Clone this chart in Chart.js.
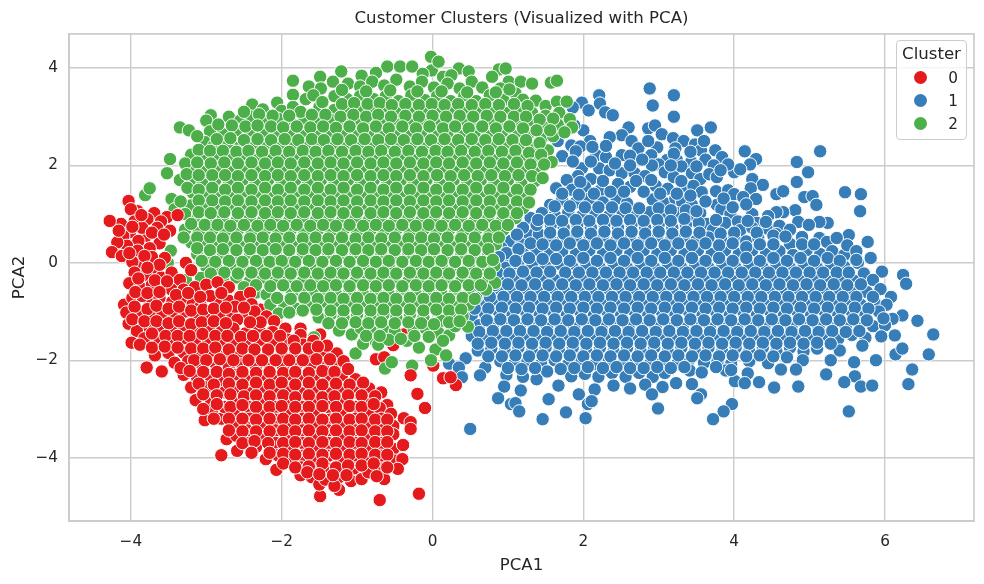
<!DOCTYPE html>
<html>
<head>
<meta charset="utf-8">
<title>Customer Clusters</title>
<script src="https://cdn.jsdelivr.net/npm/chart.js@4"></script>
<style>
  body { margin: 0; background: #fff; font-family: "DejaVu Sans", sans-serif; color: #262626; }
  #wrap { position: relative; width: 984px; height: 584px; }
  #legend { position: absolute; left: 896px; top: 40px; width: 69px; height: 98px; background: rgba(255,255,255,0.8);
    border: 1px solid #ccc; border-radius: 4px; }
  #legend .ttl { position: absolute; left: 0; right: 0; top: 3px; text-align: center; font-size: 16.6px; line-height: 20px; }
  #legend .row { position: absolute; left: 0; right: 0; height: 18px; font-size: 15.3px; line-height: 18px; }
  #legend .dot { position: absolute; left: 17px; top: 2px; width: 13px; height: 13px; border-radius: 50%; }
  #legend .lab { position: absolute; left: 49px; top: 0; width: 14px; text-align: center; }
</style>
</head>
<body>
<div id="wrap">
  <canvas id="clusterChart" width="984" height="584"></canvas>
  <div id="legend"></div>
</div>
<script>
'use strict';

const xTicks = [-4, -2, 0, 2, 4, 6];
const yTicks = [-4, -2, 0, 2, 4];
const clusterNames = ['0', '1', '2'];
const clusterColors = ['#e41a1c', '#377eb8', '#4daf4a'];

const cluster0 = [
[-4.03,1.27],[-3.91,1.06],[-4.0,1.1],[-3.69,1.02],[-3.52,0.94],[-3.38,0.98],[-3.6,0.85],[-3.78,0.9],[-3.95,0.85],[-4.13,0.8],[-4.28,0.86],[-4.01,0.63],[-3.8,0.55],[-3.65,0.72],[-3.85,0.72],[-4.1,0.55],[-3.48,0.66],[-3.62,0.4],[-3.75,0.3],[-3.9,0.45],[-4.05,0.35],[-4.18,0.42],[-4.25,0.22],[-4.12,0.14],[-3.91,0.25],[-3.84,0],[-3.67,-0.14],[-3.55,0.1],[-3.98,0.02],[-3.72,0.12],
[-3.95,-0.2],[-3.8,-0.25],[-3.6,-0.3],[-3.46,-0.2],[-3.35,-0.35],[-3.2,-0.15],[-4.02,-0.42],[-3.88,-0.5],[-3.72,-0.45],[-3.55,-0.5],[-3.46,-0.55],[-3.3,-0.55],[-3.15,-0.5],[-3.0,-0.45],[-2.85,-0.4],[-2.7,-0.5],
[-4.09,-0.86],[-3.98,-0.72],[-3.75,-0.84],[-3.85,-0.68],[-3.62,-0.72],[-3.45,-0.8],[-3.3,-0.72],[-3.18,-0.85],[-3.07,-0.88],[-2.86,-0.82],[-2.95,-0.68],[-2.7,-0.78],[-2.55,-0.7],[-2.42,-0.62],[-2.4,-0.85],
[-4.03,-1.25],[-4.06,-1.02],[-3.9,-1.05],[-3.72,-1.08],[-3.78,-0.95],[-3.58,-1.02],[-3.42,-1.1],[-3.28,-1.0],[-3.12,-1.12],[-2.98,-1.05],[-2.82,-1.1],[-2.66,-1.02],[-2.52,-1.12],[-2.59,-1.17],[-2.36,-1.0],[-2.2,-1.1],[-2.1,-1.2],
[-3.76,-1.33],[-3.92,-1.4],[-3.99,-1.64],[-3.82,-1.55],[-3.6,-1.32],[-3.62,-1.58],[-3.45,-1.4],[-3.46,-1.62],[-3.3,-1.3],[-3.3,-1.55],[-3.14,-1.42],[-3.12,-1.65],[-2.96,-1.32],[-2.98,-1.58],[-2.8,-1.42],[-2.8,-1.66],[-2.64,-1.35],[-2.62,-1.6],[-2.48,-1.45],[-2.44,-1.68],[-2.3,-1.35],[-2.28,-1.58],[-2.12,-1.42],[-2.1,-1.68],[-1.95,-1.35],[-1.92,-1.58],[-1.75,-1.48],[-1.72,-1.68],[-1.58,-1.6],
[-3.79,-2.15],[-3.59,-2.23],[-3.68,-1.9],[-3.5,-1.85],[-3.42,-2.05],[-3.3,-1.84],[-3.24,-2.02],[-3.1,-1.88],[-3.05,-2.12],[-2.92,-1.85],[-2.88,-2.06],[-2.74,-1.9],[-2.7,-2.14],[-2.55,-1.88],[-2.52,-2.08],[-2.36,-1.9],[-2.34,-2.14],[-2.18,-1.88],[-2.16,-2.08],[-2.0,-1.9],[-1.98,-2.14],[-1.82,-1.88],[-1.8,-2.08],[-1.64,-1.9],[-1.62,-2.12],[-1.46,-1.84],[-1.44,-2.08],[-1.27,-1.86],[-1.28,-2.1],[-1.4,-1.7],[-1.18,-2.02],
[-3.3,-2.3],[-3.2,-2.56],[-3.14,-2.82],[-3.12,-2.36],[-3.0,-2.55],[-2.96,-2.3],[-2.94,-2.8],[-2.8,-2.42],[-2.76,-2.66],[-2.62,-2.3],[-2.6,-2.56],[-2.6,-2.84],[-2.44,-2.4],[-2.42,-2.68],[-2.26,-2.32],[-2.25,-2.58],[-2.25,-2.84],[-2.1,-2.42],[-2.08,-2.68],[-1.92,-2.32],[-1.9,-2.56],[-1.9,-2.82],[-1.74,-2.42],[-1.73,-2.68],[-1.56,-2.32],[-1.55,-2.58],[-1.55,-2.84],[-1.38,-2.4],[-1.38,-2.68],[-1.2,-2.32],[-1.2,-2.58],[-1.2,-2.84],[-1.02,-2.39],[-1.02,-2.66],[-0.84,-2.58],[-0.86,-2.82],[-0.68,-2.66],[-0.6,-2.92],
[-3.02,-3.23],[-2.92,-3.02],[-2.8,-3.2],[-2.76,-2.96],[-2.6,-3.08],[-2.6,-3.32],[-2.44,-2.96],[-2.42,-3.2],[-2.26,-3.08],[-2.25,-3.34],[-2.08,-2.96],[-2.08,-3.22],[-1.9,-3.08],[-1.9,-3.32],[-1.72,-2.96],[-1.72,-3.2],[-1.55,-3.08],[-1.54,-3.34],[-1.38,-2.96],[-1.36,-3.22],[-1.2,-3.08],[-1.18,-3.34],[-1.02,-2.96],[-1.02,-3.2],[-0.85,-3.08],[-0.84,-3.32],[-0.7,-2.98],[-0.68,-3.2],[-0.55,-3.1],[-0.52,-3.35],
[-2.73,-3.62],[-2.8,-3.95],[-2.59,-3.86],[-2.6,-3.55],[-2.46,-3.44],[-2.44,-3.7],[-2.34,-3.78],[-2.26,-3.56],[-2.21,-4.03],[-2.08,-3.44],[-2.08,-3.7],[-2.07,-4.25],[-2.05,-3.95],[-1.9,-3.56],[-1.9,-3.82],[-1.9,-4.08],[-1.72,-3.44],[-1.72,-3.7],[-1.72,-3.96],[-1.75,-4.36],[-1.74,-4.2],[-1.55,-3.56],[-1.55,-3.82],[-1.55,-4.08],[-1.6,-4.4],[-1.38,-3.44],[-1.38,-3.7],[-1.38,-3.96],[-1.4,-4.22],[-1.2,-3.56],[-1.2,-3.82],[-1.2,-4.08],[-1.24,-4.4],[-1.02,-3.44],[-1.02,-3.7],[-1.02,-3.96],[-1.04,-4.22],[-0.85,-3.56],[-0.85,-3.82],[-0.85,-4.08],[-0.68,-3.44],[-0.68,-3.7],[-0.68,-3.96],[-0.7,-4.22],[-0.52,-3.52],[-0.52,-3.82],[-0.5,-4.06],[-0.39,-3.74],[-0.4,-4.03],[-0.46,-4.23],
[-1.49,-4.79],[-1.5,-4.55],[-1.42,-4.45],[-1.24,-4.66],[-1.3,-4.58],[-1.08,-4.48],[-0.94,-4.44],[-0.85,-4.3],[-0.64,-4.44],[-0.7,-4.87],[-0.18,-4.74],[-0.1,-2.98],[-0.2,-2.69],[-0.29,-2.31],[0.14,-2.37],[0.31,-2.51],[0.24,-2.35],[-0.38,-3.19],[-0.29,-3.27],[-0.29,-3.41],
[-3.86,0.98],[-3.72,0.62],[-3.56,0.58],[-3.98,0.74],[-4.16,0.66],[-3.82,0.14],[-4.02,0.2],[-3.62,-0.04],[-3.78,-0.1],[-3.9,-0.32],[-3.68,-0.36],[-3.52,-0.38],[-3.94,-0.6],[-3.78,-0.62],[-3.62,-0.6],[-3.4,-0.66],[-3.24,-0.62],[-3.08,-0.7],[-2.8,-0.62],[-2.62,-0.9],[-3.95,-0.9],[-3.66,-0.88],[-3.5,-0.94],[-3.36,-0.9],[-3.2,-0.98],[-3.04,-0.96],[-2.9,-0.94],[-2.74,-0.92],[-2.5,-0.92],[-2.28,-1.22],[-3.98,-1.16],[-3.82,-1.2],[-3.66,-1.2],[-3.5,-1.24],[-3.36,-1.2],[-3.2,-1.26],[-3.06,-1.22],[-2.9,-1.2],[-2.74,-1.24],[-2.42,-1.22],[-3.88,-1.68],[-3.72,-1.45],[-3.54,-1.5],[-3.38,-1.5],[-3.22,-1.5],[-3.05,-1.46],[-2.88,-1.5],[-2.72,-1.5],[-2.54,-1.52],[-2.38,-1.5],[-2.2,-1.5],[-2.02,-1.5],[-1.84,-1.6],[-3.72,-1.74],[-3.55,-1.72],[-3.38,-1.74],[-3.2,-1.76],[-3.04,-1.76],[-2.88,-1.74],[-2.7,-1.78],[-2.52,-1.76],[-2.36,-1.78],[-2.18,-1.78],[-2.0,-1.76],[-1.82,-1.76],[-1.64,-1.76],[-1.52,-1.72],[-3.34,-2.16],[-3.16,-2.0],[-3.0,-2.0],[-2.82,-1.98],[-2.64,-2.0],[-2.44,-2.0],[-2.26,-2.0],[-2.08,-2.0],[-1.9,-2.0],[-1.72,-2.0],[-1.54,-1.98],[-1.36,-1.98],[-3.22,-2.22],[-3.04,-2.24],[-2.86,-2.24],[-2.7,-2.28],[-2.52,-2.24],[-2.34,-2.26],[-2.16,-2.24],[-1.98,-2.26],[-1.82,-2.24],[-1.64,-2.26],[-1.46,-2.22],[-1.3,-2.24],[-1.12,-2.18],[-3.1,-2.48],[-2.9,-2.5],[-2.7,-2.48],[-2.52,-2.5],[-2.34,-2.46],[-2.16,-2.5],[-2.0,-2.46],[-1.82,-2.5],[-1.64,-2.46],[-1.46,-2.5],[-1.28,-2.48],[-1.1,-2.5],[-0.92,-2.46],[-3.04,-2.7],[-2.86,-2.72],[-2.68,-2.7],[-2.5,-2.74],[-2.34,-2.72],[-2.16,-2.74],[-1.98,-2.72],[-1.82,-2.76],[-1.64,-2.72],[-1.46,-2.76],[-1.3,-2.74],[-1.12,-2.72],[-0.94,-2.72],[-0.76,-2.74],[-3.04,-3.0],[-2.86,-2.9],[-2.68,-2.96],[-2.52,-2.92],[-2.34,-2.96],[-2.16,-2.96],[-2.0,-2.94],[-1.82,-2.96],[-1.64,-2.96],[-1.46,-2.94],[-1.28,-2.96],[-1.1,-2.94],[-0.94,-2.96],[-0.78,-2.9],[-2.9,-3.2],[-2.7,-3.2],[-2.52,-3.2],[-2.34,-3.22],[-2.16,-3.2],[-1.98,-3.2],[-1.82,-3.22],[-1.64,-3.2],[-1.46,-3.22],[-1.28,-3.2],[-1.1,-3.22],[-0.94,-3.2],[-0.76,-3.22],[-0.6,-3.22],[-2.7,-3.44],[-2.52,-3.46],[-2.34,-3.46],[-2.16,-3.46],[-1.98,-3.44],[-1.82,-3.46],[-1.64,-3.44],[-1.46,-3.46],[-1.28,-3.44],[-1.1,-3.46],[-0.94,-3.44],[-0.76,-3.46],[-0.6,-3.46],[-2.52,-3.7],[-2.36,-3.66],[-2.18,-3.7],[-1.98,-3.7],[-1.82,-3.68],[-1.64,-3.7],[-1.46,-3.68],[-1.28,-3.7],[-1.1,-3.68],[-0.94,-3.7],[-0.76,-3.68],[-0.6,-3.68],[-2.4,-3.9],[-2.16,-3.9],[-1.98,-3.92],[-1.82,-3.94],[-1.64,-3.92],[-1.46,-3.94],[-1.28,-3.92],[-1.1,-3.94],[-0.94,-3.92],[-0.76,-3.94],[-0.6,-3.94],[-1.98,-4.12],[-1.82,-4.2],[-1.64,-4.18],[-1.46,-4.12],[-1.28,-4.2],[-1.12,-4.16],[-0.94,-4.16],[-0.78,-4.12],[-0.6,-4.2],[-1.66,-4.3],[-1.5,-4.34],[-1.32,-4.36],[-1.14,-4.36],[-0.74,-4.38]
];

// the few reds that sit on top of the green cloud
const cluster0Front = [[-2.28,-0.96],[-1.75,-1.35],[-1.49,-1.47],[-0.38,-1.47],[-0.52,-1.69],[-3.27,0],[0.01,-2.11],[-0.75,-1.98],[-0.64,-1.94],[-2.59,-1.17]];

const cluster2 = [
[-0.02,4.23],[-0.01,3.95],[0.08,4.13],[-1.21,3.93],[-0.94,3.84],[-0.6,4.03],[-0.43,4.03],[-0.27,4.03],[-0.75,3.9],[0.14,3.82],[0.35,3.99],[0.48,3.93],[0.88,3.97],[0.97,3.99],[0.79,3.82],[-0.13,3.88],[0.25,3.85],
[-1.85,3.74],[-1.64,3.62],[-1.49,3.82],[-1.32,3.72],[-1.48,3.58],[-1.12,3.68],[-0.96,3.62],[-0.8,3.72],[-0.64,3.64],[-0.48,3.76],[-0.3,3.62],[-0.14,3.72],[0.02,3.6],[0.2,3.68],[0.36,3.58],[0.52,3.72],[0.66,3.6],[1.01,3.72],[1.17,3.72],[1.32,3.68],[1.57,3.7],[1.65,3.74],[0.9,3.58],[1.1,3.48],
[-1.85,3.45],[-1.68,3.36],[-1.3,3.42],[-1.13,3.36],[-0.96,3.42],[-0.78,3.36],[-0.62,3.42],[-0.45,3.32],[-0.28,3.44],[-0.1,3.34],[0.06,3.42],[0.24,3.32],[0.42,3.42],[0.58,3.32],[0.76,3.44],[0.94,3.34],[1.2,3.35],[1.37,3.33],[1.5,3.22],[1.65,3.31],[1.78,3.31],
[-2.06,3.29],[-2.39,3.25],[-2.25,3.15],[-2.0,3.12],[-1.85,3.2],[-1.5,3.2],[-1.3,3.14],[-1.12,3.12],[-0.95,3.18],[-0.78,3.1],[-0.62,3.18],[-0.44,3.08],[-0.26,3.18],[-0.08,3.08],[0.1,3.18],[0.28,3.08],[0.46,3.18],[0.64,3.08],[0.82,3.18],[1.0,3.08],[1.16,3.16],[1.32,3.08],[1.5,3.02],[1.68,3.08],[1.82,2.95],
[-2.94,3.03],[-3.0,2.92],[-2.7,3.0],[-2.55,2.92],[-2.4,3.0],[-2.22,2.9],[-2.05,2.96],[-1.88,2.88],[-1.7,2.96],[-1.52,2.88],[-1.35,2.94],[-1.18,2.86],[-1.0,2.94],[-0.82,2.86],[-0.65,2.94],[-0.48,2.84],[-0.3,2.94],[-0.12,2.84],[0.05,2.94],[0.22,2.84],[0.4,2.94],[0.58,2.84],[0.76,2.94],[0.94,2.84],[1.12,2.92],[1.3,2.84],[1.48,2.78],[1.66,2.84],[1.85,2.78],
[-3.35,2.78],[-3.23,2.72],[-2.95,2.7],[-2.78,2.64],[-2.6,2.72],[-2.42,2.62],[-2.25,2.7],[-2.08,2.62],[-1.9,2.68],[-1.72,2.6],[-1.55,2.68],[-1.38,2.6],[-1.2,2.68],[-1.02,2.6],[-0.85,2.68],[-0.68,2.6],[-0.5,2.68],[-0.32,2.6],[-0.15,2.68],[0.02,2.6],[0.2,2.68],[0.38,2.6],[0.56,2.68],[0.74,2.6],[0.92,2.68],[1.1,2.6],[1.28,2.66],[1.45,2.56],[1.6,2.6],
[-3.02,2.48],[-2.9,2.4],[-2.72,2.46],[-2.55,2.38],[-2.38,2.46],[-2.2,2.38],[-2.02,2.44],[-1.85,2.36],[-1.68,2.44],[-1.5,2.36],[-1.32,2.44],[-1.15,2.36],[-0.98,2.44],[-0.8,2.36],[-0.62,2.44],[-0.45,2.36],[-0.28,2.44],[-0.1,2.36],[0.08,2.44],[0.26,2.36],[0.44,2.44],[0.62,2.36],[0.8,2.44],[0.98,2.36],[1.16,2.44],[1.34,2.36],[1.53,2.31],
[-3.2,2.22],[-3.05,2.14],[-2.85,2.2],[-2.68,2.12],[-2.5,2.2],[-2.32,2.12],[-2.15,2.2],[-1.98,2.12],[-1.8,2.2],[-1.62,2.12],[-1.45,2.2],[-1.28,2.12],[-1.1,2.2],[-0.92,2.12],[-0.75,2.2],[-0.58,2.12],[-0.4,2.2],[-0.22,2.12],[-0.05,2.2],[0.12,2.12],[0.3,2.2],[0.48,2.12],[0.66,2.2],[0.84,2.12],[1.02,2.2],[1.2,2.12],[1.38,2.18],[1.58,2.07],
[-3.48,2.13],[-3.52,1.84],[-3.35,1.7],[-3.18,1.96],[-3.0,1.88],[-2.82,1.96],[-2.65,1.88],[-2.48,1.96],[-2.3,1.88],[-2.12,1.96],[-1.95,1.88],[-1.78,1.96],[-1.6,1.88],[-1.42,1.96],[-1.25,1.88],[-1.08,1.96],[-0.9,1.88],[-0.72,1.96],[-0.55,1.88],[-0.38,1.96],[-0.2,1.88],[-0.02,1.96],[0.15,1.88],[0.32,1.96],[0.5,1.88],[0.68,1.96],[0.86,1.88],[1.04,1.96],[1.22,1.88],[1.4,1.92],
[-3.2,1.68],[-3.05,1.62],[-2.88,1.7],[-2.7,1.62],[-2.52,1.7],[-2.35,1.62],[-2.18,1.7],[-2.0,1.62],[-1.82,1.7],[-1.65,1.62],[-1.48,1.7],[-1.3,1.62],[-1.12,1.7],[-0.95,1.62],[-0.78,1.7],[-0.6,1.62],[-0.42,1.7],[-0.25,1.62],[-0.08,1.7],[0.1,1.62],[0.28,1.7],[0.46,1.62],[0.64,1.7],[0.82,1.62],[1.0,1.7],[1.18,1.62],[1.36,1.68],
[-3.81,1.39],[-3.75,1.53],[-3.46,1.31],[-3.18,1.44],[-3.0,1.38],[-2.82,1.44],[-2.65,1.36],[-2.48,1.44],[-2.3,1.36],[-2.12,1.44],[-1.95,1.36],[-1.78,1.44],[-1.6,1.36],[-1.42,1.44],[-1.25,1.36],[-1.08,1.44],[-0.9,1.36],[-0.72,1.44],[-0.55,1.36],[-0.38,1.44],[-0.2,1.36],[-0.02,1.44],[0.15,1.36],[0.32,1.44],[0.5,1.36],[0.68,1.44],[0.86,1.36],[1.04,1.44],[1.22,1.38],
[-3.42,1.1],[-3.2,1.18],[-3.02,1.12],[-2.85,1.2],[-2.68,1.12],[-2.5,1.2],[-2.32,1.12],[-2.15,1.2],[-1.98,1.12],[-1.8,1.2],[-1.62,1.12],[-1.45,1.2],[-1.28,1.12],[-1.1,1.2],[-0.92,1.12],[-0.75,1.2],[-0.58,1.12],[-0.4,1.2],[-0.22,1.12],[-0.05,1.2],[0.12,1.12],[0.3,1.2],[0.48,1.12],[0.66,1.2],[0.84,1.12],[1.02,1.2],[1.2,1.12],
[-3.12,0.92],[-2.95,0.86],[-2.78,0.94],[-2.6,0.86],[-2.42,0.94],[-2.25,0.86],[-2.08,0.94],[-1.9,0.86],[-1.72,0.94],[-1.55,0.86],[-1.38,0.94],[-1.2,0.86],[-1.02,0.94],[-0.85,0.86],[-0.68,0.94],[-0.5,0.86],[-0.32,0.94],[-0.15,0.86],[0.02,0.94],[0.2,0.86],[0.38,0.94],[0.56,0.86],[0.74,0.94],[0.92,0.86],[1.1,0.92],
[-3.28,0.68],[-3.1,0.62],[-2.92,0.68],[-2.75,0.6],[-2.58,0.68],[-2.4,0.6],[-2.22,0.68],[-2.05,0.6],[-1.88,0.68],[-1.7,0.6],[-1.52,0.68],[-1.35,0.6],[-1.18,0.68],[-1.0,0.6],[-0.82,0.68],[-0.65,0.6],[-0.48,0.68],[-0.3,0.6],[-0.12,0.68],[0.05,0.6],[0.22,0.68],[0.4,0.6],[0.58,0.68],[0.76,0.6],[0.94,0.68],
[-3.2,0.42],[-3.02,0.36],[-2.85,0.44],[-2.68,0.36],[-2.5,0.44],[-2.32,0.36],[-2.15,0.44],[-1.98,0.36],[-1.8,0.44],[-1.62,0.36],[-1.45,0.44],[-1.28,0.36],[-1.1,0.44],[-0.92,0.36],[-0.75,0.44],[-0.58,0.36],[-0.4,0.44],[-0.22,0.36],[-0.05,0.44],[0.12,0.36],[0.3,0.44],[0.48,0.36],[0.66,0.44],[0.84,0.38],
[-3.47,0.25],[-3.12,0.18],[-2.95,0.12],[-2.78,0.2],[-2.6,0.12],[-2.42,0.2],[-2.25,0.12],[-2.08,0.2],[-1.9,0.12],[-1.72,0.2],[-1.55,0.12],[-1.38,0.2],[-1.2,0.12],[-1.02,0.2],[-0.85,0.12],[-0.68,0.2],[-0.5,0.12],[-0.32,0.2],[-0.15,0.12],[0.02,0.2],[0.2,0.12],[0.38,0.2],[0.56,0.12],[0.74,0.18],
[-3.51,0.0],[-3.0,-0.08],[-2.85,-0.14],[-2.68,-0.06],[-2.5,-0.14],[-2.32,-0.06],[-2.15,-0.14],[-1.98,-0.06],[-1.8,-0.14],[-1.62,-0.06],[-1.45,-0.14],[-1.28,-0.06],[-1.1,-0.14],[-0.92,-0.06],[-0.75,-0.14],[-0.58,-0.06],[-0.4,-0.14],[-0.22,-0.06],[-0.05,-0.14],[0.12,-0.06],[0.3,-0.14],[0.48,-0.06],[0.66,-0.14],[0.82,-0.06],
[-3.27,-0.35],[-3.07,-0.31],[-2.78,-0.34],[-2.6,-0.3],[-2.42,-0.38],[-2.25,-0.3],[-2.08,-0.38],[-1.9,-0.3],[-1.72,-0.38],[-1.55,-0.3],[-1.38,-0.38],[-1.2,-0.3],[-1.02,-0.38],[-0.85,-0.3],[-0.68,-0.38],[-0.5,-0.3],[-0.32,-0.38],[-0.15,-0.3],[0.02,-0.38],[0.2,-0.3],[0.38,-0.38],[0.56,-0.3],[0.74,-0.36],[0.83,-0.41],
[-2.34,-0.61],[-2.2,-0.65],[-2.05,-0.41],[-1.86,-0.61],[-1.68,-0.56],[-1.57,-0.65],[-1.42,-0.56],[-1.28,-0.64],[-1.1,-0.56],[-0.92,-0.64],[-0.75,-0.56],[-0.58,-0.64],[-0.4,-0.56],[-0.22,-0.64],[-0.05,-0.56],[0.12,-0.64],[0.3,-0.56],[0.48,-0.64],[0.71,-0.55],
[-2.15,-0.86],[-1.98,-0.8],[-1.81,-0.94],[-1.62,-0.86],[-1.45,-0.8],[-1.28,-0.88],[-1.1,-0.8],[-0.92,-0.88],[-0.75,-0.8],[-0.58,-0.88],[-0.4,-0.8],[-0.22,-0.88],[-0.05,-0.8],[0.12,-0.88],[0.3,-0.8],[0.48,-0.86],
[-2.04,-1.04],[-1.51,-1.12],[-1.35,-1.06],[-1.18,-1.12],[-1.0,-1.06],[-0.82,-1.12],[-0.65,-1.06],[-0.48,-1.12],[-0.3,-1.06],[-0.12,-1.12],[0.12,-1.19],[0.28,-1.06],[0.47,-1.31],[0.4,-1.1],
[-1.24,-1.39],[-1.07,-1.47],[-0.95,-1.34],[-0.8,-1.42],[-0.65,-1.34],[-0.5,-1.42],[-0.25,-1.36],[-0.09,-1.35],[0.08,-1.44],[0.22,-1.49],[0.3,-1.3],
[-1.57,-1.53],[-1.02,-1.86],[-0.92,-1.66],[-0.75,-1.62],[-0.72,-1.68],[-0.58,-1.58],[-0.34,-1.6],[-0.18,-1.74],[0.04,-1.78],[0.18,-1.9],[-0.02,-2.0],
[-0.63,-2.17],[-0.27,-2.11],[-0.54,-2.04],
[-1.2,3.55],[-0.88,3.52],[-0.56,3.54],[-0.2,3.52],[0.12,3.52],[0.46,3.5],[0.84,3.5],[1.02,3.56],[-1.58,3.44],[-1.46,3.3],[-1.2,3.26],[-1.04,3.28],[-0.86,3.26],[-0.7,3.28],[-0.54,3.24],[-0.36,3.26],[-0.18,3.24],[-0.01,3.26],[0.16,3.24],[0.34,3.26],[0.52,3.24],[0.7,3.26],[0.88,3.24],[1.08,3.26],[1.26,3.22],[-1.75,3.1],[-1.9,3.02],[-2.12,3.02],[-2.3,3.05],[-2.5,3.1],[-1.6,3.04],[-1.42,3.04],[-1.22,3.0],[-1.05,3.04],[-0.88,3.0],[-0.72,3.04],[-0.55,3.0],[-0.36,3.02],[-0.18,3.0],[-0.0,3.02],[0.18,3.0],[0.36,3.02],[0.54,3.0],[0.72,3.02],[0.9,3.0],[1.08,3.0],[1.24,3.0],[1.42,2.94],[1.6,2.96],[-2.84,2.84],[-2.66,2.82],[-2.48,2.8],[-2.32,2.82],[-2.14,2.8],[-1.98,2.78],[-1.8,2.8],[-1.62,2.78],[-1.45,2.8],[-1.28,2.77],[-1.1,2.8],[-0.92,2.76],[-0.75,2.8],[-0.58,2.76],[-0.4,2.8],[-0.22,2.76],[-0.04,2.8],[0.14,2.76],[0.3,2.8],[0.48,2.76],[0.66,2.8],[0.84,2.76],[1.02,2.8],[1.2,2.76],[1.38,2.72],[1.56,2.72],[1.75,2.68],[-3.12,2.6],[-2.86,2.54],[-2.68,2.56],[-2.5,2.52],[-2.32,2.54],[-2.14,2.52],[-1.96,2.54],[-1.78,2.52],[-1.6,2.54],[-1.44,2.52],[-1.26,2.54],[-1.08,2.52],[-0.9,2.54],[-0.72,2.52],[-0.55,2.54],[-0.38,2.52],[-0.2,2.54],[-0.02,2.52],[0.16,2.54],[0.34,2.52],[0.52,2.54],[0.7,2.52],[0.88,2.54],[1.06,2.52],[1.24,2.52],[1.42,2.46],[-3.1,2.32],[-2.95,2.3],[-2.78,2.3],[-2.6,2.28],[-2.44,2.3],[-2.26,2.28],[-2.08,2.3],[-1.9,2.28],[-1.72,2.3],[-1.55,2.28],[-1.38,2.3],[-1.2,2.28],[-1.02,2.3],[-0.85,2.28],[-0.68,2.3],[-0.5,2.28],[-0.32,2.3],[-0.14,2.28],[0.04,2.3],[0.2,2.28],[0.38,2.3],[0.56,2.28],[0.74,2.3],[0.92,2.28],[1.1,2.3],[1.28,2.26],[1.44,2.22],[-3.28,2.04],[-3.12,2.06],[-2.94,2.04],[-2.76,2.06],[-2.58,2.04],[-2.4,2.06],[-2.22,2.04],[-2.05,2.06],[-1.88,2.04],[-1.7,2.06],[-1.52,2.04],[-1.35,2.06],[-1.18,2.04],[-1.0,2.06],[-0.82,2.04],[-0.65,2.06],[-0.48,2.04],[-0.3,2.06],[-0.12,2.04],[0.05,2.06],[0.22,2.04],[0.4,2.06],[0.58,2.04],[0.76,2.06],[0.94,2.04],[1.12,2.06],[1.3,2.02],[1.48,2.02],[-3.26,1.82],[-3.1,1.8],[-2.92,1.8],[-2.75,1.8],[-2.58,1.78],[-2.4,1.8],[-2.22,1.78],[-2.05,1.8],[-1.88,1.78],[-1.7,1.8],[-1.52,1.78],[-1.35,1.8],[-1.18,1.78],[-1.0,1.8],[-0.82,1.78],[-0.65,1.8],[-0.48,1.78],[-0.3,1.8],[-0.12,1.78],[0.06,1.8],[0.24,1.78],[0.42,1.8],[0.6,1.78],[0.78,1.8],[0.96,1.78],[1.14,1.8],[1.32,1.78],[1.46,1.74],[-3.25,1.54],[-3.1,1.5],[-2.92,1.54],[-2.75,1.5],[-2.58,1.54],[-2.4,1.5],[-2.22,1.54],[-2.05,1.5],[-1.88,1.54],[-1.7,1.5],[-1.52,1.54],[-1.35,1.5],[-1.18,1.54],[-1.0,1.5],[-0.82,1.54],[-0.65,1.5],[-0.48,1.54],[-0.3,1.5],[-0.12,1.54],[0.05,1.5],[0.22,1.54],[0.4,1.5],[0.58,1.54],[0.76,1.5],[0.94,1.54],[1.12,1.5],[1.3,1.5],[-3.34,1.26],[-3.1,1.28],[-2.92,1.28],[-2.75,1.26],[-2.58,1.28],[-2.4,1.26],[-2.22,1.28],[-2.05,1.26],[-1.88,1.28],[-1.7,1.26],[-1.52,1.28],[-1.35,1.26],[-1.18,1.28],[-1.0,1.26],[-0.82,1.28],[-0.65,1.26],[-0.48,1.28],[-0.3,1.26],[-0.12,1.28],[0.05,1.26],[0.22,1.28],[0.4,1.26],[0.58,1.28],[0.76,1.26],[0.94,1.28],[1.12,1.26],[1.28,1.24],[-3.28,1.0],[-3.1,1.04],[-2.94,1.02],[-2.76,1.04],[-2.58,1.02],[-2.4,1.04],[-2.22,1.02],[-2.05,1.04],[-1.88,1.02],[-1.7,1.04],[-1.52,1.02],[-1.35,1.04],[-1.18,1.02],[-1.0,1.04],[-0.82,1.02],[-0.65,1.04],[-0.48,1.02],[-0.3,1.04],[-0.12,1.02],[0.05,1.04],[0.22,1.02],[0.4,1.04],[0.58,1.02],[0.76,1.04],[0.94,1.02],[1.12,1.02],[-3.2,0.8],[-3.02,0.78],[-2.85,0.78],[-2.68,0.76],[-2.5,0.78],[-2.32,0.76],[-2.15,0.78],[-1.98,0.76],[-1.8,0.78],[-1.62,0.76],[-1.45,0.78],[-1.28,0.76],[-1.1,0.78],[-0.92,0.76],[-0.75,0.78],[-0.58,0.76],[-0.4,0.78],[-0.22,0.76],[-0.05,0.78],[0.12,0.76],[0.3,0.78],[0.48,0.76],[0.66,0.78],[0.84,0.76],[1.0,0.78],[-3.3,0.52],[-3.12,0.52],[-2.95,0.52],[-2.78,0.5],[-2.6,0.52],[-2.42,0.5],[-2.25,0.52],[-2.08,0.5],[-1.9,0.52],[-1.72,0.5],[-1.55,0.52],[-1.38,0.5],[-1.2,0.52],[-1.02,0.5],[-0.85,0.52],[-0.68,0.5],[-0.5,0.52],[-0.32,0.5],[-0.15,0.52],[0.02,0.5],[0.2,0.52],[0.38,0.5],[0.56,0.52],[0.74,0.5],[0.88,0.52],[-3.12,0.3],[-2.95,0.26],[-2.78,0.28],[-2.6,0.26],[-2.42,0.28],[-2.25,0.26],[-2.08,0.28],[-1.9,0.26],[-1.72,0.28],[-1.55,0.26],[-1.38,0.28],[-1.2,0.26],[-1.02,0.28],[-0.85,0.26],[-0.68,0.28],[-0.5,0.26],[-0.32,0.28],[-0.15,0.26],[0.02,0.28],[0.2,0.26],[0.38,0.28],[0.56,0.26],[0.74,0.28],[-3.06,0.04],[-2.88,0.02],[-2.7,0.04],[-2.52,0.02],[-2.34,0.04],[-2.16,0.02],[-2.0,0.04],[-1.82,0.02],[-1.64,0.04],[-1.46,0.02],[-1.28,0.04],[-1.1,0.02],[-0.92,0.04],[-0.75,0.02],[-0.58,0.04],[-0.4,0.02],[-0.22,0.04],[-0.05,0.02],[0.12,0.04],[0.3,0.02],[0.48,0.04],[0.66,0.02],[0.8,0.06],[-2.94,-0.22],[-2.76,-0.2],[-2.58,-0.22],[-2.4,-0.2],[-2.22,-0.22],[-2.05,-0.2],[-1.88,-0.22],[-1.7,-0.2],[-1.52,-0.22],[-1.35,-0.2],[-1.18,-0.22],[-1.0,-0.2],[-0.82,-0.22],[-0.65,-0.2],[-0.48,-0.22],[-0.3,-0.2],[-0.12,-0.22],[0.05,-0.2],[0.22,-0.22],[0.4,-0.2],[0.58,-0.22],[0.76,-0.22],[-2.5,-0.5],[-2.34,-0.46],[-2.15,-0.48],[-1.98,-0.46],[-1.8,-0.48],[-1.62,-0.46],[-1.45,-0.48],[-1.28,-0.46],[-1.1,-0.48],[-0.92,-0.46],[-0.75,-0.48],[-0.58,-0.46],[-0.4,-0.48],[-0.22,-0.46],[-0.05,-0.48],[0.12,-0.46],[0.3,-0.48],[0.48,-0.46],[0.64,-0.46],[-2.06,-0.72],[-1.88,-0.74],[-1.7,-0.72],[-1.52,-0.74],[-1.35,-0.72],[-1.18,-0.74],[-1.0,-0.72],[-0.82,-0.74],[-0.65,-0.72],[-0.48,-0.74],[-0.3,-0.72],[-0.12,-0.74],[0.05,-0.72],[0.22,-0.74],[0.4,-0.72],[0.56,-0.74],[-1.9,-1.02],[-1.72,-0.98],[-1.54,-0.96],[-1.35,-0.98],[-1.18,-0.98],[-1.0,-0.96],[-0.82,-0.98],[-0.65,-0.96],[-0.48,-0.98],[-0.3,-0.96],[-0.12,-0.98],[0.05,-0.96],[0.22,-0.98],[0.38,-0.96],[-1.38,-1.24],[-1.2,-1.24],[-1.02,-1.22],[-0.85,-1.24],[-0.68,-1.22],[-0.5,-1.24],[-0.32,-1.22],[-0.15,-1.24],[0.02,-1.26],[0.22,-1.22],[0.36,-1.2],[-0.88,-1.5],[-0.7,-1.5],[-0.42,-1.56],[-0.24,-1.5],[-0.05,-1.52],[0.14,-1.6]
];

const cluster1 = [
[2.21,3.44],[2.88,3.58],[3.2,3.44],[1.98,3.29],[1.86,3.19],[2.22,3.27],[2.29,3.09],[2.07,3.13],[2.39,3.03],[2.92,3.23],[3.2,3.0],
[2.6,2.78],[2.51,2.62],[2.35,2.58],[2.64,2.5],[2.86,2.76],[2.95,2.82],[3.04,2.64],[1.78,2.76],[2.0,2.72],[1.88,2.82],[2.98,2.37],[2.73,2.35],[3.19,2.56],[3.33,2.5],[3.48,2.43],[3.51,2.72],[3.69,2.78],[3.56,2.31],[3.75,2.31],[1.66,2.5],[1.84,2.41],[2.09,2.5],[1.96,2.39],[1.9,2.29],[3.22,2.35],
[1.72,2.19],[2.17,2.21],[2.3,2.17],[2.51,2.21],[2.9,2.21],[3.11,2.11],[3.24,2.11],[3.43,2.07],[3.84,2.17],[4.14,2.29],[4.29,2.13],[4.21,2.02],[5.14,2.29],[4.83,2.07],[3.0,2.02],[3.62,2.12],[3.3,1.98],[3.73,2.0],
[1.98,1.94],[2.21,1.94],[2.35,1.9],[2.51,1.84],[2.91,2.0],[1.93,1.78],[1.78,1.7],[2.1,1.72],[2.68,1.84],[2.82,1.78],[3.08,1.86],[3.2,1.76],[3.44,1.84],[3.55,1.72],[3.67,1.82],[3.77,1.76],[4.0,1.86],[4.08,1.92],[4.24,1.72],[4.38,1.6],[4.98,1.86],[4.83,1.66],
[1.64,1.53],[1.85,1.5],[2.02,1.56],[2.22,1.48],[2.62,1.56],[2.96,1.58],[3.12,1.52],[3.33,1.51],[3.46,1.58],[3.57,1.45],[3.76,1.47],[3.92,1.49],[4.0,1.41],[4.22,1.53],[4.56,1.41],[4.65,1.47],[4.93,1.35],[5.04,1.37],[5.47,1.45],[5.68,1.41],
[1.56,1.19],[1.72,1.3],[1.9,1.24],[2.08,1.32],[2.26,1.24],[2.44,1.32],[2.58,1.22],[2.92,1.3],[3.08,1.22],[3.22,1.32],[3.31,1.25],[3.44,1.19],[3.77,1.19],[3.83,1.1],[4.12,1.35],[4.29,1.31],[5.09,1.19],[5.67,1.06],[4.81,1.08],[4.65,1.04],[4.56,1.04],[4.45,0.96],[4.24,1.0],
[1.45,1.02],[1.3,0.92],[1.62,0.98],[1.8,1.04],[1.98,0.96],[2.16,1.04],[2.34,0.96],[2.52,1.04],[2.7,0.96],[2.88,1.04],[3.06,0.96],[3.24,1.02],[3.4,0.94],[3.55,1.02],[3.95,1.0],[3.88,0.82],[3.64,0.8],[3.53,0.82],[4.05,0.85],[5.24,0.82],[5.13,0.84],[4.85,0.84],[4.99,0.78],[4.3,0.82],
[1.28,0.57],[1.41,0.59],[1.57,0.78],[1.2,0.72],[1.38,0.78],[1.74,0.72],[1.92,0.8],[2.1,0.72],[2.28,0.8],[2.46,0.72],[2.64,0.8],[2.82,0.72],[3.0,0.8],[3.18,0.72],[3.36,0.78],[3.72,0.68],[4.08,0.67],[4.24,0.72],[4.45,0.7],[4.6,0.76],[4.74,0.68],[5.52,0.57],
[1.04,0.45],[0.91,0.31],[1.18,0.38],[1.56,0.52],[1.72,0.46],[1.9,0.54],[2.08,0.46],[2.26,0.54],[2.44,0.46],[2.62,0.54],[2.8,0.46],[2.98,0.54],[3.16,0.46],[3.34,0.54],[3.5,0.46],[3.66,0.52],[3.84,0.46],[4.0,0.52],[4.16,0.44],[4.32,0.51],[4.56,0.59],[4.74,0.39],[4.9,0.53],[5.13,0.51],[5.23,0.43],[5.36,0.51],[5.77,0.43],
[0.83,0.0],[1.02,0.14],[1.2,0.2],[1.38,0.26],[1.55,0.18],[1.72,0.24],[1.9,0.18],[2.08,0.26],[2.26,0.18],[2.44,0.26],[2.62,0.18],[2.8,0.26],[2.98,0.18],[3.16,0.26],[3.34,0.18],[3.52,0.26],[3.7,0.18],[3.88,0.26],[4.06,0.18],[4.24,0.26],[4.42,0.18],[4.6,0.24],[4.78,0.16],[4.96,0.26],[5.14,0.18],[5.3,0.24],[5.46,0.16],[5.81,0.1],
[0.96,-0.1],[1.14,-0.06],[1.32,-0.02],[1.5,-0.08],[1.68,-0.02],[1.86,-0.1],[2.04,-0.02],[2.22,-0.1],[2.4,-0.02],[2.58,-0.1],[2.76,-0.02],[2.94,-0.1],[3.12,-0.02],[3.3,-0.1],[3.48,-0.02],[3.66,-0.1],[3.84,-0.02],[4.02,-0.1],[4.2,-0.02],[4.38,-0.1],[4.56,-0.02],[4.74,-0.1],[4.92,-0.02],[5.1,-0.1],[5.28,-0.02],[5.46,-0.08],[5.64,0],[5.72,-0.22],[5.96,-0.18],[6.24,-0.25],
[0.75,-0.34],[0.92,-0.34],[1.1,-0.28],[1.28,-0.34],[1.46,-0.28],[1.64,-0.36],[1.82,-0.28],[2.0,-0.36],[2.18,-0.28],[2.36,-0.36],[2.54,-0.28],[2.72,-0.36],[2.9,-0.28],[3.08,-0.36],[3.26,-0.28],[3.44,-0.36],[3.62,-0.28],[3.8,-0.36],[3.98,-0.28],[4.16,-0.36],[4.34,-0.28],[4.52,-0.36],[4.7,-0.28],[4.88,-0.36],[5.06,-0.28],[5.24,-0.36],[5.42,-0.28],[5.58,-0.36],[5.84,-0.35],[6.28,-0.43],
[0.55,-0.58],[0.72,-0.6],[0.9,-0.54],[1.08,-0.6],[1.26,-0.54],[1.44,-0.6],[1.62,-0.54],[1.8,-0.62],[1.98,-0.54],[2.16,-0.62],[2.34,-0.54],[2.52,-0.62],[2.7,-0.54],[2.88,-0.62],[3.06,-0.54],[3.24,-0.62],[3.42,-0.54],[3.6,-0.62],[3.78,-0.54],[3.96,-0.62],[4.14,-0.54],[4.32,-0.62],[4.5,-0.54],[4.68,-0.62],[4.86,-0.54],[5.04,-0.62],[5.22,-0.54],[5.4,-0.62],[5.58,-0.54],[5.76,-0.6],[5.94,-0.54],[6.08,-0.7],
[0.47,-0.82],[0.64,-0.84],[0.82,-0.78],[1.0,-0.86],[1.18,-0.78],[1.36,-0.86],[1.54,-0.78],[1.72,-0.86],[1.9,-0.78],[2.08,-0.86],[2.26,-0.78],[2.44,-0.86],[2.62,-0.78],[2.8,-0.86],[2.98,-0.78],[3.16,-0.86],[3.34,-0.78],[3.52,-0.86],[3.7,-0.78],[3.88,-0.86],[4.06,-0.78],[4.24,-0.86],[4.42,-0.78],[4.6,-0.86],[4.78,-0.78],[4.96,-0.86],[5.14,-0.78],[5.32,-0.86],[5.5,-0.78],[5.68,-0.86],[5.86,-0.8],[6.02,-0.86],
[0.36,-1.0],[0.52,-1.08],[0.7,-1.06],[0.88,-1.0],[1.06,-1.08],[1.24,-1.0],[1.42,-1.08],[1.6,-1.0],[1.78,-1.08],[1.96,-1.0],[2.14,-1.08],[2.32,-1.0],[2.5,-1.08],[2.68,-1.0],[2.86,-1.08],[3.04,-1.0],[3.22,-1.08],[3.4,-1.0],[3.58,-1.08],[3.76,-1.0],[3.94,-1.08],[4.12,-1.0],[4.3,-1.08],[4.48,-1.0],[4.66,-1.08],[4.84,-1.0],[5.02,-1.08],[5.2,-1.0],[5.38,-1.08],[5.56,-1.0],[5.74,-1.08],[5.92,-1.0],[6.23,-1.08],[6.1,-1.15],
[0.62,-1.28],[0.8,-1.3],[0.98,-1.24],[1.16,-1.32],[1.34,-1.24],[1.52,-1.32],[1.7,-1.24],[1.88,-1.32],[2.06,-1.24],[2.24,-1.32],[2.42,-1.24],[2.6,-1.32],[2.78,-1.24],[2.96,-1.32],[3.14,-1.24],[3.32,-1.32],[3.5,-1.24],[3.68,-1.32],[3.86,-1.24],[4.04,-1.32],[4.22,-1.24],[4.4,-1.32],[4.58,-1.24],[4.76,-1.32],[4.94,-1.24],[5.12,-1.32],[5.3,-1.24],[5.48,-1.32],[5.66,-1.24],[5.84,-1.3],[6.0,-1.28],[6.43,-1.19],[6.13,-1.49],[5.95,-1.51],[6.64,-1.47],
[0.52,-1.5],[0.7,-1.56],[0.88,-1.5],[1.06,-1.56],[1.24,-1.48],[1.42,-1.56],[1.6,-1.48],[1.78,-1.56],[1.96,-1.48],[2.14,-1.56],[2.32,-1.48],[2.5,-1.56],[2.68,-1.48],[2.86,-1.56],[3.04,-1.48],[3.22,-1.56],[3.4,-1.48],[3.58,-1.56],[3.76,-1.48],[3.94,-1.56],[4.12,-1.48],[4.3,-1.56],[4.48,-1.48],[4.66,-1.56],[4.84,-1.48],[5.02,-1.56],[5.2,-1.48],[5.38,-1.56],[5.56,-1.48],[5.74,-1.54],
[0.6,-1.8],[0.78,-1.76],[0.96,-1.82],[1.14,-1.74],[1.32,-1.82],[1.5,-1.74],[1.68,-1.82],[1.86,-1.74],[2.04,-1.82],[2.22,-1.74],[2.4,-1.82],[2.58,-1.74],[2.76,-1.82],[2.94,-1.74],[3.12,-1.82],[3.3,-1.74],[3.48,-1.82],[3.66,-1.74],[3.84,-1.82],[4.02,-1.74],[4.2,-1.82],[4.38,-1.74],[4.56,-1.82],[4.74,-1.74],[4.92,-1.82],[5.1,-1.76],[5.4,-1.8],[5.7,-1.7],[6.14,-1.88],[6.23,-1.76],[6.58,-1.88],
[0.44,-1.96],[0.7,-2.15],[0.22,-2.07],[0.35,-2.15],[0.63,-2.31],[0.39,-2.35],[0.9,-2.02],[1.08,-2.08],[1.26,-2.02],[1.44,-2.08],[1.62,-2.0],[1.8,-2.08],[1.98,-2.0],[2.16,-2.08],[2.34,-2.0],[2.52,-2.08],[2.7,-2.0],[2.88,-2.08],[3.06,-2.0],[3.24,-2.08],[3.4,-2.0],[3.6,-2.05],[3.78,-2.02],[3.96,-2.08],[4.2,-2.02],[4.45,-2.06],[4.91,-2.0],[5.28,-2.0],[5.59,-2.04],[5.88,-2.0],[6.36,-2.19],
[0.98,-2.3],[1.2,-2.34],[1.38,-2.39],[1.52,-2.23],[1.84,-2.33],[1.67,-2.52],[2.02,-2.28],[2.2,-2.34],[2.38,-2.26],[2.56,-2.34],[2.74,-2.26],[2.92,-2.34],[3.08,-2.26],[3.23,-2.47],[3.41,-2.21],[3.57,-2.25],[3.89,-2.21],[4.18,-2.27],[4.62,-2.19],[4.82,-2.19],[5.22,-2.29],[5.6,-2.33],[5.46,-2.45],[5.68,-2.54],[5.83,-2.52],[6.31,-2.49],
[1.17,-2.62],[0.95,-2.54],[2.15,-2.6],[2.4,-2.52],[2.62,-2.58],[2.82,-2.5],[3.05,-2.55],[3.44,-2.49],[4.01,-2.43],[4.14,-2.47],[4.33,-2.45],[4.53,-2.56],[4.85,-2.54],[1.94,-2.7],[1.54,-2.8],[2.91,-2.7],[3.56,-2.7],[3.51,-2.78],
[0.87,-2.78],[1.04,-2.9],[1.1,-2.88],[1.15,-3.05],[2.06,-2.9],[2.11,-2.84],[2.99,-2.99],[3.97,-2.9],[3.86,-3.05],[3.72,-3.21],[1.77,-3.07],[1.46,-3.21],[2.03,-3.19],[0.5,-3.41],[5.52,-3.05],
[2.12,2.38],[2.3,2.4],[2.86,2.5],[2.62,2.2],[2.78,2.12],[3.42,2.28],[3.6,2.5],[3.2,2.24],[2.1,2.08],[1.86,2.08],[2.42,2.04],[2.62,2.0],[3.16,2.0],[3.5,1.98],[3.92,2.02],[3.82,1.9],[3.3,1.68],[2.9,1.7],[2.7,1.68],[2.46,1.62],[2.26,1.68],[1.96,1.66],[1.72,1.42],[1.94,1.4],[2.14,1.42],[2.36,1.46],[2.54,1.46],[2.8,1.46],[3.02,1.42],[3.24,1.42],[3.42,1.38],[3.62,1.26],[3.86,1.32],[4.16,1.2],[2.02,1.14],[1.82,1.16],[1.62,1.16],[2.2,1.14],[2.38,1.14],[2.56,1.12],[2.74,1.12],[3.0,1.12],[3.16,1.08],[3.36,1.08],[3.5,1.06],[3.98,1.14],[1.4,0.88],[1.56,0.88],[1.72,0.86],[1.9,0.88],[2.08,0.86],[2.26,0.88],[2.44,0.86],[2.62,0.88],[2.8,0.86],[2.98,0.88],[3.16,0.86],[3.34,0.9],[3.76,0.88],[4.18,0.86],[4.42,0.84],[1.12,0.58],[1.56,0.62],[1.74,0.6],[1.92,0.64],[2.1,0.6],[2.28,0.64],[2.46,0.6],[2.64,0.64],[2.82,0.6],[3.0,0.64],[3.18,0.6],[3.36,0.64],[3.54,0.62],[3.82,0.6],[4.0,0.62],[4.3,0.62],[4.52,0.56],[4.68,0.54],[0.98,0.2],[1.14,0.28],[1.3,0.4],[1.46,0.38],[1.64,0.36],[1.82,0.4],[2.0,0.36],[2.18,0.4],[2.36,0.36],[2.54,0.4],[2.72,0.36],[2.9,0.4],[3.08,0.36],[3.26,0.4],[3.44,0.36],[3.62,0.4],[3.8,0.36],[3.98,0.4],[4.16,0.32],[4.34,0.38],[4.52,0.38],[4.9,0.38],[5.06,0.38],[5.5,0.36],[5.62,0.24],[0.88,0.12],[1.1,0.04],[1.28,0.1],[1.46,0.08],[1.64,0.08],[1.82,0.04],[2.0,0.1],[2.18,0.04],[2.36,0.1],[2.54,0.04],[2.72,0.1],[2.9,0.04],[3.08,0.1],[3.26,0.04],[3.44,0.1],[3.62,0.04],[3.8,0.1],[3.98,0.04],[4.16,0.1],[4.34,0.04],[4.52,0.1],[4.7,0.04],[4.88,0.1],[5.06,0.04],[5.24,0.1],[5.4,0.04],[5.62,0.06],[0.86,-0.2],[1.02,-0.22],[1.2,-0.18],[1.38,-0.2],[1.56,-0.18],[1.76,-0.2],[1.94,-0.2],[2.12,-0.2],[2.3,-0.2],[2.48,-0.2],[2.66,-0.2],[2.84,-0.2],[3.02,-0.2],[3.2,-0.2],[3.38,-0.2],[3.56,-0.2],[3.74,-0.2],[3.92,-0.2],[4.1,-0.2],[4.28,-0.2],[4.46,-0.2],[4.64,-0.2],[4.82,-0.2],[5.0,-0.2],[5.18,-0.2],[5.36,-0.2],[5.52,-0.2],[0.64,-0.46],[0.82,-0.46],[1.0,-0.44],[1.18,-0.46],[1.36,-0.44],[1.54,-0.46],[1.72,-0.44],[1.9,-0.46],[2.08,-0.44],[2.26,-0.46],[2.44,-0.44],[2.62,-0.46],[2.8,-0.44],[2.98,-0.46],[3.16,-0.44],[3.34,-0.46],[3.52,-0.44],[3.7,-0.46],[3.88,-0.44],[4.06,-0.46],[4.24,-0.44],[4.42,-0.46],[4.6,-0.44],[4.78,-0.46],[4.96,-0.44],[5.14,-0.46],[5.32,-0.44],[5.5,-0.46],[5.68,-0.44],[0.58,-0.72],[0.76,-0.7],[0.94,-0.7],[1.12,-0.7],[1.3,-0.7],[1.48,-0.7],[1.66,-0.7],[1.84,-0.7],[2.02,-0.7],[2.2,-0.7],[2.38,-0.7],[2.56,-0.7],[2.74,-0.7],[2.92,-0.7],[3.1,-0.7],[3.28,-0.7],[3.46,-0.7],[3.64,-0.7],[3.82,-0.7],[4.0,-0.7],[4.18,-0.7],[4.36,-0.7],[4.54,-0.7],[4.72,-0.7],[4.9,-0.7],[5.08,-0.7],[5.26,-0.7],[5.44,-0.7],[5.62,-0.7],[5.84,-0.7],[0.56,-0.94],[0.74,-0.94],[0.92,-0.92],[1.1,-0.94],[1.28,-0.92],[1.46,-0.94],[1.64,-0.92],[1.82,-0.94],[2.0,-0.92],[2.18,-0.94],[2.36,-0.92],[2.54,-0.94],[2.72,-0.92],[2.9,-0.94],[3.08,-0.92],[3.26,-0.94],[3.44,-0.92],[3.62,-0.94],[3.8,-0.92],[3.98,-0.94],[4.16,-0.92],[4.34,-0.94],[4.52,-0.92],[4.7,-0.94],[4.88,-0.92],[5.06,-0.94],[5.24,-0.92],[5.42,-0.94],[5.6,-0.92],[5.78,-0.94],[0.72,-1.18],[0.9,-1.16],[1.08,-1.18],[1.26,-1.16],[1.44,-1.18],[1.62,-1.16],[1.8,-1.18],[1.98,-1.16],[2.16,-1.18],[2.34,-1.16],[2.52,-1.18],[2.7,-1.16],[2.88,-1.18],[3.06,-1.16],[3.24,-1.18],[3.42,-1.16],[3.6,-1.18],[3.78,-1.16],[3.96,-1.18],[4.14,-1.16],[4.32,-1.18],[4.5,-1.16],[4.68,-1.18],[4.86,-1.16],[5.04,-1.18],[5.22,-1.16],[5.4,-1.18],[5.58,-1.16],[5.76,-1.18],[5.98,-1.14],[0.62,-1.42],[0.8,-1.4],[0.98,-1.4],[1.16,-1.4],[1.34,-1.4],[1.52,-1.42],[1.7,-1.4],[1.88,-1.42],[2.06,-1.4],[2.24,-1.42],[2.42,-1.4],[2.6,-1.42],[2.78,-1.4],[2.96,-1.42],[3.14,-1.4],[3.32,-1.42],[3.5,-1.4],[3.68,-1.42],[3.86,-1.4],[4.04,-1.42],[4.22,-1.4],[4.4,-1.42],[4.58,-1.4],[4.76,-1.42],[4.94,-1.4],[5.12,-1.42],[5.3,-1.4],[5.48,-1.42],[5.66,-1.4],[0.6,-1.66],[0.78,-1.64],[0.96,-1.66],[1.14,-1.64],[1.32,-1.66],[1.5,-1.64],[1.68,-1.66],[1.86,-1.64],[2.04,-1.66],[2.22,-1.64],[2.4,-1.66],[2.58,-1.64],[2.76,-1.66],[2.94,-1.64],[3.12,-1.66],[3.3,-1.64],[3.48,-1.66],[3.66,-1.64],[3.84,-1.66],[4.02,-1.64],[4.2,-1.66],[4.38,-1.64],[4.56,-1.66],[4.74,-1.64],[4.92,-1.66],[5.1,-1.64],[5.28,-1.66],[0.74,-1.92],[0.92,-1.92],[1.1,-1.9],[1.28,-1.92],[1.46,-1.9],[1.64,-1.92],[1.82,-1.9],[2.0,-1.92],[2.18,-1.9],[2.36,-1.92],[2.54,-1.9],[2.72,-1.92],[2.9,-1.9],[3.08,-1.92],[3.26,-1.9],[3.44,-1.92],[3.62,-1.9],[3.8,-1.92],[3.98,-1.9],[4.16,-1.92],[4.34,-1.9],[4.52,-1.92],[4.7,-1.94],[1.0,-2.16],[1.18,-2.18],[1.36,-2.16],[1.7,-2.18],[1.88,-2.16],[2.06,-2.14],[2.26,-2.16],[2.44,-2.14],[2.62,-2.16],[2.8,-2.16],[2.98,-2.14],[3.16,-2.16],[3.34,-2.14],[3.76,-2.14],[3.96,-2.2]
];

const pointRadius = 6.7;

function toXY(points) {
  return points.map((p) => ({ x: p[0], y: p[1] }));
}

function makeDataset(label, points, color) {
  return {
    label: label,
    data: toXY(points),
    backgroundColor: color,
    borderColor: '#ffffff',
    borderWidth: 1,
    pointRadius: pointRadius,
    pointHoverRadius: pointRadius,
  };
}

const gridColor = '#cccccc';
const textColor = '#262626';
const fontFamily = '"DejaVu Sans", sans-serif';

function minusSign(value) {
  return String(value).replace('-', '\u2212');
}

// top and right spines, the scales only give left and bottom
const frame = {
  id: 'frame',
  beforeDatasetsDraw(chart) {
    const a = chart.chartArea;
    const c = chart.ctx;
    c.save();
    c.strokeStyle = gridColor;
    c.lineWidth = 1.7;
    c.strokeRect(a.left, a.top, a.right - a.left, a.bottom - a.top);
    c.restore();
  },
};

const ctx = document.getElementById('clusterChart');

const myChart = new Chart(ctx, {
  type: 'scatter',
  data: {
    datasets: [
      makeDataset(clusterNames[0], cluster0, clusterColors[0]),
      makeDataset(clusterNames[2], cluster2, clusterColors[2]),
      makeDataset(clusterNames[0], cluster0Front, clusterColors[0]),
      makeDataset(clusterNames[1], cluster1, clusterColors[1]),
    ],
  },
  plugins: [frame],
  options: {
    responsive: false,
    animation: false,
    layout: { padding: { left: 0, right: 10, top: 0, bottom: 0 } },
    plugins: {
      legend: { display: false },
      tooltip: { enabled: false },
      title: {
        display: true,
        fullSize: false,
        text: 'Customer Clusters (Visualized with PCA)',
        color: textColor,
        font: { family: fontFamily, size: 16.6, weight: 'normal' },
        padding: { top: 9, bottom: 5 },
      },
    },
    scales: {
      x: {
        type: 'linear',
        min: -4.82,
        max: 7.18,
        afterBuildTicks: (axis) => {
          axis.ticks = xTicks.map((v) => ({ value: v }));
        },
        afterFit: (axis) => {
          axis.height = 63;
        },
        grid: { color: gridColor, lineWidth: 1.4, drawTicks: false },
        border: { color: gridColor, width: 1.7 },
        ticks: {
          color: textColor,
          font: { family: fontFamily, size: 15.3 },
          padding: 12,
          maxRotation: 0,
          callback: minusSign,
        },
        title: {
          display: true,
          text: 'PCA1',
          color: textColor,
          font: { family: fontFamily, size: 16.6 },
          padding: { top: 4, bottom: 8 },
        },
      },
      y: {
        type: 'linear',
        min: -5.3,
        max: 4.7,
        afterBuildTicks: (axis) => {
          axis.ticks = yTicks.map((v) => ({ value: v }));
        },
        afterFit: (axis) => {
          axis.width = 69;
        },
        grid: { color: gridColor, lineWidth: 1.4, drawTicks: false },
        border: { color: gridColor, width: 1.7 },
        ticks: {
          color: textColor,
          font: { family: fontFamily, size: 15.3 },
          padding: 11,
          callback: minusSign,
        },
        title: {
          display: true,
          text: 'PCA2',
          color: textColor,
          font: { family: fontFamily, size: 16.6 },
          padding: { top: 10, bottom: 0 },
        },
      },
    },
  },
});

// legend sits inside the plot, easier as plain html
const legendBox = document.getElementById('legend');
legendBox.innerHTML = '<div class="ttl">Cluster</div>';
clusterNames.forEach((name, i) => {
  const row = document.createElement('div');
  row.className = 'row';
  row.style.top = 28 + i * 23 + 'px';
  row.innerHTML = '<span class="dot" style="background:' + clusterColors[i] + '"></span><span class="lab">' + name + '</span>';
  legendBox.appendChild(row);
});
</script>
</body>
</html>
